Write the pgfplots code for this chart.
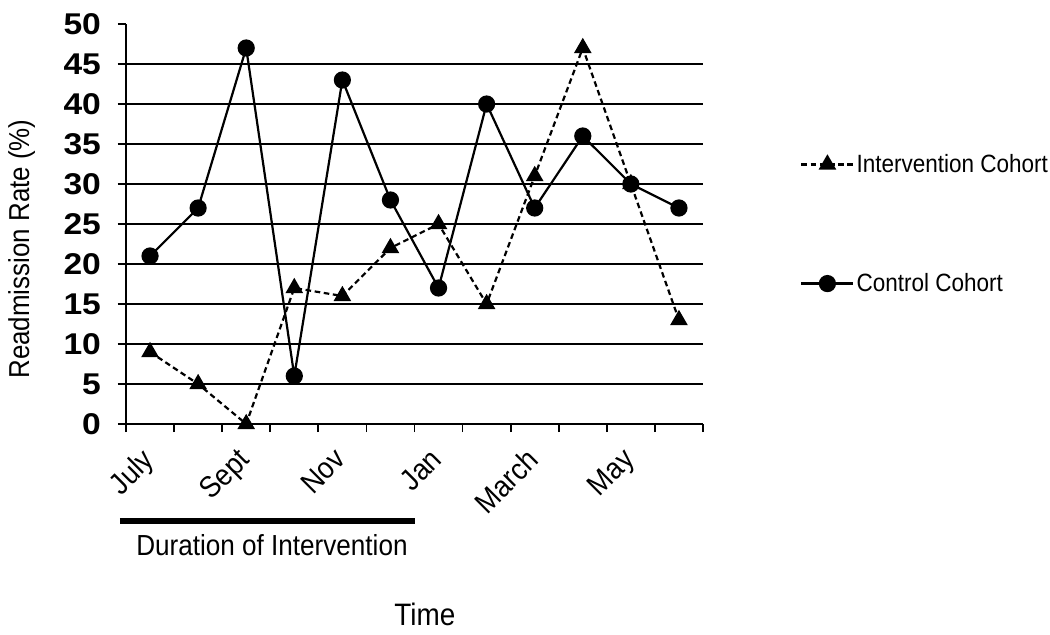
\documentclass[border=0pt]{standalone}
\usepackage{pgfplots}
\pgfplotsset{compat=1.18}
\usepackage{fontspec}
\setmainfont{Liberation Sans}[FakeStretch=0.9]
\newfontfamily\tickfont{Liberation Sans}[FakeStretch=1.12]
\begin{document}
\begin{tikzpicture}
\useasboundingbox (0,0) rectangle (525pt,317pt);
\begin{axis}[
  at={(63pt,105pt)}, anchor=south west,
  scale only axis, width=288.5pt, height=200pt,
  xmin=-0.5, xmax=11.5, ymin=0, ymax=50,
  clip=false,
  axis lines=left,
  axis line style={-, line width=0.85pt},
  tick align=outside,
  major tick length=4pt,
  minor tick length=4pt,
  tick style={line width=0.85pt, black},
  xtick={0,2,4,6,8,10},
  xticklabels={July,Sept,Nov,Jan,March,May},
  major x tick style={draw=none},
  minor xtick={-0.5,0.5,...,11.5},
  xticklabel style={rotate=45, anchor=north east, font=\fontsize{15}{17}\selectfont, xshift=-5.2pt, yshift=1.8pt},
  ytick={0,5,...,50},
  minor ytick={5,10,...,45},
  yminorgrids=true,
  minor grid style={line width=0.85pt, black},
  yticklabel style={font=\tickfont\bfseries\fontsize{15}{17}\selectfont, xshift=-5pt},
  /pgf/number format/assume math mode=true,
  ylabel={Readmission Rate (\%)},
  ylabel style={at={(axis description cs:-0.181,0.4375)}, anchor=center, font=\fontsize{14.4}{16}\selectfont},
  xlabel={Time},
  xlabel style={at={(axis description cs:0.518,-0.475)}, anchor=center, font=\fontsize{15.5}{17}\selectfont},
  legend style={at={(axis description cs:1.168,0.50)}, anchor=west, draw=none, fill=none,
    inner sep=0pt, row sep=47pt, font=\fontsize{12.5}{14}\selectfont, nodes={inner sep=1pt}},
  legend cell align=left,
  legend image code/.code={\draw[mark repeat=2,mark phase=2,#1] plot coordinates {(0pt,0pt) (13pt,0pt) (26pt,0pt)};},
]
\addplot[black, line width=1.1pt, dash pattern=on 2.8pt off 1.8pt, mark=triangle*, mark size=4pt, mark options={solid}]
  coordinates {(0,9) (1,5) (2,0) (3,17) (4,16) (5,22) (6,25) (7,15) (8,31) (9,47) (10,30) (11,13)};
\addlegendentry{Intervention Cohort}
\addplot[black, line width=1.1pt, mark=*, mark size=3.75pt]
  coordinates {(0,21) (1,27) (2,47) (3,6) (4,43) (5,28) (6,17) (7,40) (8,27) (9,36) (10,30) (11,27)};
\addlegendentry{Control Cohort}
\draw[line width=3pt] (axis cs:-0.625,-12.1) -- (axis cs:5.5,-12.1);
\node[font=\fontsize{14.5}{16}\selectfont] at (axis cs:2.535,-15.1) {Duration of Intervention};
\end{axis}
\end{tikzpicture}
\end{document}
